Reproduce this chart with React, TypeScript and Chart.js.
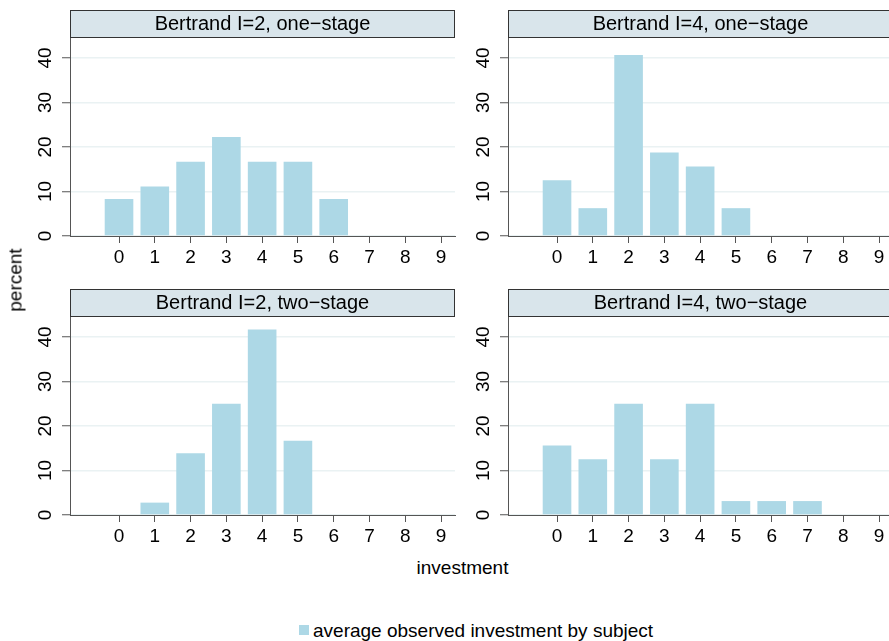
import React, { useEffect, useRef } from "react";
import { Chart, registerables } from "chart.js";

Chart.register(...registerables);

// Investment levels on the horizontal axis and the percent ticks on the vertical axis
const investmentLevels = [0, 1, 2, 3, 4, 5, 6, 7, 8, 9];
const percentTicks = [0, 10, 20, 30, 40];

// Share of subjects (percent) choosing each investment level
const i2OneStage = [8.33, 11.11, 16.67, 22.22, 16.67, 16.67, 8.33, 0, 0, 0];
const i4OneStage = [12.5, 6.25, 40.63, 18.75, 15.63, 6.25, 0, 0, 0, 0];
const i2TwoStage = [0, 2.78, 13.89, 25.0, 41.67, 16.67, 0, 0, 0, 0];
const i4TwoStage = [15.63, 12.5, 25.0, 12.5, 25.0, 3.13, 3.13, 3.13, 0, 0];

const panelTitles = [
  "Bertrand I=2, one\u2212stage",
  "Bertrand I=4, one\u2212stage",
  "Bertrand I=2, two\u2212stage",
  "Bertrand I=4, two\u2212stage",
];
const seriesLabel = "average observed investment by subject";
const xAxisTitle = "investment";
const yAxisTitle = "percent";

const X_MIN = -1.37;
const X_MAX = 9.39;
const Y_MAX = 44.7;

const FONT = '"Liberation Sans", Arial, Helvetica, sans-serif';
const BAR = "#add8e6";
const GRID = "#eaf2f3";
const AXIS = "#555555";
const STRIP_BG = "#d9e5eb";
const STRIP_BORDER = "#333333";

const CANVAS_W = 460;
const CANVAS_H = 275;

// Draws the shaded title strip above each panel's plot region
const stripPlugin = {
  id: "strip",
  afterDraw(chart: any, _args: any, opts: any) {
    const { ctx, chartArea } = chart;
    const y0 = 10;
    const y1 = chartArea.top;
    const w = chartArea.right - chartArea.left;
    ctx.save();
    ctx.fillStyle = STRIP_BG;
    ctx.fillRect(chartArea.left, y0, w, y1 - y0);
    ctx.strokeStyle = STRIP_BORDER;
    ctx.lineWidth = 1;
    ctx.strokeRect(chartArea.left + 0.5, y0 + 0.5, w - 1, y1 - y0);
    ctx.fillStyle = "#000";
    ctx.font = `20px ${FONT}`;
    ctx.textAlign = "center";
    ctx.textBaseline = "middle";
    ctx.fillText(opts.text, (chartArea.left + chartArea.right) / 2, (y0 + y1) / 2 + 1);
    ctx.restore();
  },
};

function Panel({ title, values, left, top }: { title: string; values: number[]; left: number; top: number }) {
  const ref = useRef<HTMLCanvasElement>(null);

  useEffect(() => {
    const chart = new Chart(ref.current as HTMLCanvasElement, {
      type: "bar",
      data: {
        datasets: [
          {
            label: seriesLabel,
            data: investmentLevels.map((x, i) => ({ x, y: values[i] })),
            backgroundColor: BAR,
            borderWidth: 0,
            barPercentage: 0.8,
            categoryPercentage: 1,
          } as any,
        ],
      },
      options: {
        responsive: false,
        animation: false,
        events: [],
        layout: { padding: { left: 0, top: 37, right: 5, bottom: 0 } },
        plugins: {
          legend: { display: false },
          tooltip: { enabled: false },
          strip: { text: title },
        } as any,
        scales: {
          x: {
            type: "linear",
            min: X_MIN,
            max: X_MAX,
            offset: false,
            afterBuildTicks: (s: any) => {
              s.ticks = investmentLevels.map((v) => ({ value: v }));
            },
            afterFit: (s: any) => {
              s.height = 39;
            },
            grid: {
              offset: false,
              drawOnChartArea: false,
              drawTicks: true,
              tickLength: 7,
              tickColor: AXIS,
              tickWidth: 1,
            },
            border: { color: AXIS, width: 1, z: 1 },
            ticks: {
              color: "#000",
              font: { family: FONT, size: 19 },
              padding: 3,
              autoSkip: false,
              maxRotation: 0,
              minRotation: 0,
            },
          },
          y: {
            type: "linear",
            min: 0,
            max: Y_MAX,
            afterBuildTicks: (s: any) => {
              s.ticks = percentTicks.map((v) => ({ value: v }));
            },
            afterFit: (s: any) => {
              s.width = 70;
            },
            grid: {
              color: GRID,
              lineWidth: 1.5,
              drawTicks: true,
              tickLength: 8,
              tickColor: AXIS,
              tickWidth: 1,
            },
            border: { color: AXIS, width: 1, z: 1 },
            ticks: {
              color: "#000",
              font: { family: FONT, size: 19 },
              minRotation: 90,
              maxRotation: 90,
              crossAlign: "center",
              padding: 6,
            },
          },
        },
      } as any,
      plugins: [stripPlugin],
    });
    return () => chart.destroy();
  }, [title, values]);

  return (
    <canvas
      ref={ref}
      width={CANVAS_W}
      height={CANVAS_H}
      style={{ position: "absolute", left, top, width: CANVAS_W, height: CANVAS_H }}
    />
  );
}

export default function App() {
  return (
    <div
      style={{
        position: "absolute",
        left: 0,
        top: 0,
        width: 889,
        height: 641,
        overflow: "hidden",
        background: "#fff",
        fontFamily: FONT,
        color: "#000",
      }}
    >
      <Panel title={panelTitles[0]} values={i2OneStage} left={0} top={0} />
      <Panel title={panelTitles[1]} values={i4OneStage} left={438} top={0} />
      <Panel title={panelTitles[2]} values={i2TwoStage} left={0} top={279} />
      <Panel title={panelTitles[3]} values={i4TwoStage} left={438} top={279} />

      <div
        style={{
          position: "absolute",
          left: 15,
          top: 280,
          fontSize: 19,
          lineHeight: 1,
          whiteSpace: "nowrap",
          transform: "translate(-50%, -50%) rotate(-90deg)",
        }}
      >
        {yAxisTitle}
      </div>

      <div
        style={{
          position: "absolute",
          left: 462.5,
          top: 567,
          fontSize: 19,
          lineHeight: 1,
          whiteSpace: "nowrap",
          transform: "translate(-50%, -50%)",
        }}
      >
        {xAxisTitle}
      </div>

      <div
        style={{
          position: "absolute",
          left: 299,
          top: 625,
          width: 10,
          height: 10,
          background: BAR,
        }}
      />
      <div
        style={{
          position: "absolute",
          left: 313,
          top: 630,
          fontSize: 19,
          lineHeight: 1,
          whiteSpace: "nowrap",
          transform: "translateY(-50%)",
        }}
      >
        {seriesLabel}
      </div>
    </div>
  );
}
